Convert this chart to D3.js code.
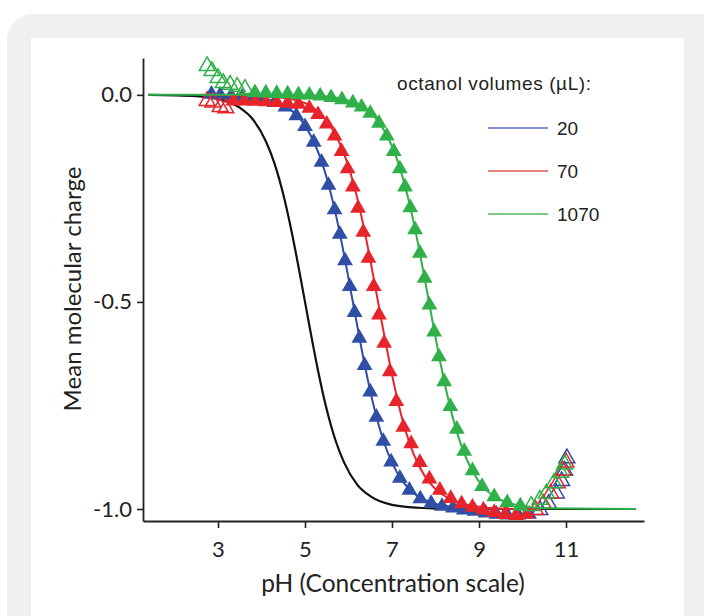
<!DOCTYPE html>
<html>
<head>
<meta charset="utf-8">
<script src="https://cdn.jsdelivr.net/npm/d3@7"></script>
<style>
  body { margin: 0; background: #fff; }
  svg { display: block; }
</style>
</head>
<body>
<div class="canvas"></div>
<script>
// ---- data (pH, mean charge) ----
const xTicks = [3, 5, 7, 9, 11];
const yTicks = [0, -0.5, -1];
const volumes = ['20', '70', '1070'];

// fitted curves
const blackFit = [[1.4,0],[2.5,-0.003],[3.0,-0.01],[3.5,-0.031],[3.8,-0.059],[4.1,-0.112],[4.3,-0.166],[4.5,-0.24],[4.7,-0.334],[4.9,-0.443],[5.1,-0.557],[5.3,-0.666],[5.5,-0.76],[5.7,-0.834],[5.9,-0.888],[6.2,-0.941],[6.5,-0.969],[7.0,-0.99],[7.6,-0.997],[8.5,-1],[12.6,-1]];
const blueFit = [[2.8,0],[3.5,-0.003],[4.0,-0.008],[4.5,-0.025],[4.9,-0.059],[5.2,-0.112],[5.45,-0.183],[5.65,-0.262],[5.85,-0.36],[6.0,-0.443],[6.15,-0.529],[6.3,-0.613],[6.45,-0.691],[6.6,-0.76],[6.8,-0.834],[7.0,-0.888],[7.25,-0.934],[7.5,-0.962],[7.9,-0.984],[8.4,-0.995],[9.0,-1],[10.4,-1]];
const redFit = [[2.8,0],[3.5,-0.001],[4.0,-0.002],[4.5,-0.007],[5.0,-0.02],[5.4,-0.05],[5.7,-0.095],[5.95,-0.157],[6.15,-0.228],[6.35,-0.319],[6.5,-0.398],[6.65,-0.483],[6.8,-0.568],[6.95,-0.65],[7.1,-0.724],[7.3,-0.807],[7.5,-0.868],[7.75,-0.92],[8.0,-0.952],[8.4,-0.979],[8.9,-0.993],[9.5,-0.999],[10.4,-1]];
const greenFit = [[1.4,0],[3.0,0],[4.0,0],[5.0,-0.001],[5.5,-0.004],[6.0,-0.014],[6.4,-0.034],[6.7,-0.066],[7.0,-0.124],[7.2,-0.183],[7.4,-0.262],[7.6,-0.36],[7.75,-0.443],[7.9,-0.529],[8.05,-0.613],[8.2,-0.691],[8.4,-0.78],[8.6,-0.849],[8.85,-0.909],[9.1,-0.947],[9.5,-0.978],[10.0,-0.993],[10.5,-0.998],[12.6,-1]];

// measured points (filled = used in fit, open = excluded)
const blueFilled = [[2.85,0.004],[3.05,0.002],[3.3,0],[3.55,-0.003],[3.8,-0.005],[4.05,-0.009],[4.3,-0.016],[4.55,-0.027],[4.8,-0.048],[5.0,-0.074],[5.2,-0.112],[5.38,-0.16],[5.54,-0.216],[5.68,-0.275],[5.8,-0.334],[5.92,-0.398],[6.03,-0.46],[6.14,-0.523],[6.25,-0.585],[6.37,-0.651],[6.5,-0.715],[6.64,-0.776],[6.8,-0.834],[6.98,-0.884],[7.18,-0.923],[7.4,-0.952],[7.65,-0.973],[7.9,-0.984],[8.15,-0.991],[8.4,-0.995],[8.65,-1],[8.9,-1.003],[9.15,-1.007],[9.4,-1.01],[9.65,-1.012],[9.9,-1.012],[10.15,-1.01]];
const blueOpen = [[10.4,-1],[10.6,-0.985],[10.78,-0.96],[10.9,-0.93],[10.97,-0.905],[11.02,-0.875]];
const redFilled = [[3.35,-0.012],[3.6,-0.012],[3.85,-0.013],[4.1,-0.014],[4.35,-0.016],[4.6,-0.018],[4.85,-0.02],[5.1,-0.03],[5.3,-0.045],[5.5,-0.068],[5.68,-0.097],[5.84,-0.134],[5.98,-0.176],[6.1,-0.22],[6.22,-0.271],[6.34,-0.329],[6.46,-0.392],[6.58,-0.46],[6.7,-0.529],[6.82,-0.597],[6.95,-0.666],[7.1,-0.738],[7.26,-0.8],[7.44,-0.84],[7.64,-0.885],[7.86,-0.925],[8.1,-0.952],[8.35,-0.972],[8.6,-0.985],[8.85,-0.993],[9.1,-1],[9.35,-1.006],[9.6,-1.011],[9.85,-1.013],[10.1,-1.01]];
const redOpen = [[2.75,-0.012],[2.88,-0.016],[3.05,-0.027],[3.18,-0.03],[10.3,-1],[10.48,-0.985],[10.65,-0.96],[10.8,-0.935],[10.93,-0.905],[11.0,-0.885]];
const greenFilled = [[3.85,0.008],[4.1,0.007],[4.35,0.006],[4.6,0.005],[4.85,0.003],[5.1,0.002],[5.35,0],[5.6,-0.004],[5.85,-0.009],[6.1,-0.017],[6.3,-0.027],[6.5,-0.042],[6.7,-0.066],[6.88,-0.097],[7.04,-0.134],[7.18,-0.176],[7.3,-0.22],[7.42,-0.27],[7.53,-0.323],[7.64,-0.38],[7.75,-0.44],[7.86,-0.505],[7.97,-0.57],[8.08,-0.63],[8.2,-0.69],[8.34,-0.75],[8.49,-0.805],[8.66,-0.858],[8.85,-0.905],[9.07,-0.943],[9.35,-0.968],[9.65,-0.982],[9.95,-0.99]];
const greenOpen = [[2.75,0.072],[2.86,0.06],[3.0,0.043],[3.12,0.031],[3.28,0.027],[3.44,0.022],[3.62,0.017],[10.2,-0.99],[10.4,-0.975],[10.55,-0.96],[10.72,-0.935],[10.88,-0.91],[10.97,-0.89]];

const colours = { '20': '#2f4ea6', '70': '#e8242b', '1070': '#2fb048' };
const legendColours = { '20': '#5a6cc0', '70': '#e0574a', '1070': '#56b95a' };

const series = [
    { key: '20', fit: blueFit, filled: blueFilled, open: blueOpen },
    { key: '70', fit: redFit, filled: redFilled, open: redOpen },
    { key: '1070', fit: greenFit, filled: greenFilled, open: greenOpen }
];

// ---- layout ----
const dims = { width: 704, height: 616 };
const plot = { left: 143, right: 644, top: 58, bottom: 521 };

const svg = d3.select('.canvas')
    .append('svg')
    .attr('width', dims.width)
    .attr('height', dims.height);

// card background
svg.append('rect')
    .attr('x', 7).attr('y', 14)
    .attr('width', 740).attr('height', 660)
    .attr('rx', 26)
    .attr('fill', '#eff1f0');
svg.append('rect')
    .attr('x', 31).attr('y', 38)
    .attr('width', 653).attr('height', 600)
    .attr('fill', '#fff');

const x = d3.scaleLinear()
    .domain([1.276, 12.793])
    .range([plot.left, plot.right]);

const y = d3.scaleLinear()
    .domain([-1.029, 0.089])
    .range([plot.bottom, plot.top]);

const line = d3.line()
    .x(d => x(d[0]))
    .y(d => y(d[1]))
    .curve(d3.curveMonotoneX);

const tri = d3.symbol().type(d3.symbolTriangle).size(108);

const graph = svg.append('g');

// black reference curve
graph.append('path')
    .attr('d', line(blackFit))
    .attr('fill', 'none')
    .attr('stroke', '#111')
    .attr('stroke-width', 2.2);

series.forEach(s => {
    const g = graph.append('g');
    g.append('path')
        .attr('d', line(s.fit))
        .attr('fill', 'none')
        .attr('stroke', colours[s.key])
        .attr('stroke-width', 2);

    g.selectAll('path.open')
        .data(s.open)
        .enter().append('path')
        .attr('class', 'open')
        .attr('d', tri)
        .attr('transform', d => `translate(${x(d[0])},${y(d[1]) + 1})`)
        .attr('fill', 'none')
        .attr('stroke', colours[s.key])
        .attr('stroke-width', 1.5);

    g.selectAll('path.filled')
        .data(s.filled)
        .enter().append('path')
        .attr('class', 'filled')
        .attr('d', tri)
        .attr('transform', d => `translate(${x(d[0])},${y(d[1]) + 1})`)
        .attr('fill', colours[s.key]);
});

// ---- axes ----
const tickFont = 'Lato, "Open Sans", sans-serif';

const xAxis = d3.axisBottom(x)
    .tickValues(xTicks)
    .tickSize(7)
    .tickSizeOuter(0)
    .tickPadding(13);

const yAxis = d3.axisLeft(y)
    .tickValues(yTicks)
    .tickSize(6)
    .tickSizeOuter(0)
    .tickPadding(5)
    .tickFormat(d => d.toFixed(1));

const xg = svg.append('g')
    .attr('transform', `translate(0,${plot.bottom})`)
    .call(xAxis);
const yg = svg.append('g')
    .attr('transform', `translate(${plot.left},0)`)
    .call(yAxis);

[xg, yg].forEach(g => {
    g.select('.domain').attr('stroke', '#222').attr('stroke-width', 1.8);
    g.selectAll('.tick line').attr('stroke', '#222').attr('stroke-width', 1.6);
    g.selectAll('.tick text')
        .attr('fill', '#222')
        .style('font-family', tickFont)
        .style('font-size', '22px');
});

svg.append('text')
    .attr('x', 393).attr('y', 592)
    .attr('text-anchor', 'middle')
    .style('font-family', tickFont)
    .style('font-size', '24.5px')
    .attr('fill', '#222')
    .text('pH (Concentration scale)');

svg.append('text')
    .attr('transform', 'translate(81,289) rotate(-90)')
    .attr('text-anchor', 'middle')
    .style('font-family', tickFont)
    .style('font-size', '24px')
    .attr('fill', '#222')
    .text('Mean molecular charge');

// ---- legend ----
const legend = svg.append('g')
    .style('font-family', '"Liberation Sans", Arial, sans-serif');

legend.append('text')
    .attr('x', 397).attr('y', 90)
    .style('font-size', '19px')
    .style('letter-spacing', '0.6px')
    .attr('fill', '#222')
    .text('octanol volumes (\u00b5L):');

const legendY = d3.scalePoint()
    .domain(volumes)
    .range([128, 214]);

const items = legend.selectAll('g.item')
    .data(volumes)
    .enter().append('g')
    .attr('class', 'item')
    .attr('transform', d => `translate(0,${legendY(d)})`);

items.append('line')
    .attr('x1', 488).attr('x2', 548)
    .attr('stroke', d => legendColours[d])
    .attr('stroke-width', 1.6);

items.append('text')
    .attr('x', 557).attr('y', 7)
    .style('font-size', '19px')
    .attr('fill', '#222')
    .text(d => d);
</script>
</body>
</html>
